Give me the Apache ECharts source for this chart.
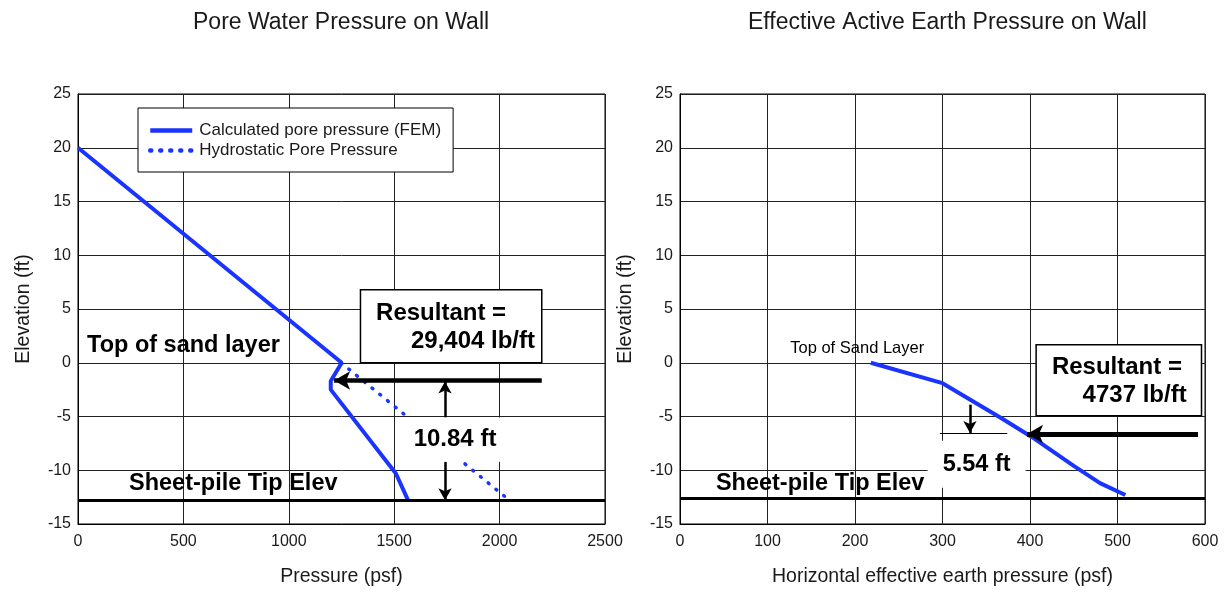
<!DOCTYPE html>
<html><head><meta charset="utf-8">
<script src="https://cdn.jsdelivr.net/npm/echarts@6/dist/echarts.min.js"></script>
<style>html,body{margin:0;padding:0;background:#fff}#c{width:1228px;height:592px}</style>
</head><body><div id="c"></div>
<script>
const FONT = '"Liberation Sans", Arial, Helvetica, sans-serif';
const BLUE = '#1a34ff';
const TXT = '#1a1a1a';

// ---- Left chart: Pore Water Pressure on Wall ----
const femPressure = [0, 1251, 1199, 1199, 1508, 1566];
const femElev = [20, 0, -1.7, -2.5, -10.3, -12.8];
const hydroPressure = [1248, 2047];
const hydroElev = [0, -12.8];
const tipElevLeft = -12.8;
const resultantLeftText = ['Resultant =', '29,404 lb/ft'];
const armLeftText = '10.84 ft';

// ---- Right chart: Effective Active Earth Pressure on Wall ----
const effPressure = [218, 300, 366, 402, 450, 480, 509];
const effElev = [0, -1.9, -5.1, -6.9, -9.6, -11.2, -12.3];
const tipElevRight = -12.6;
const resultantRightText = ['Resultant =', '4737 lb/ft'];
const armRightText = '5.54 ft';

// axes
const leftX = {min: 0, max: 2500, interval: 500};
const rightX = {min: 0, max: 600, interval: 100};
const elevY = {min: -15, max: 25, interval: 5};

const zip = (a, b) => a.map((v, i) => [v, b[i]]);

const chart = echarts.init(document.getElementById('c'), null, {renderer: 'canvas'});

function xAxisDef(idx, r, name, gap) {
  return {
    type: 'value', gridIndex: idx, min: r.min, max: r.max, interval: r.interval,
    name: name, nameLocation: 'middle', nameGap: gap,
    nameTextStyle: {fontFamily: FONT, fontSize: 19.5, color: TXT},
    axisLine: {show: true, onZero: false, lineStyle: {color: '#000', width: 1}},
    axisTick: {show: false},
    axisLabel: {fontFamily: FONT, fontSize: 16, color: TXT, margin: 10, formatter: (v) => String(v)},
    splitLine: {show: true, lineStyle: {color: '#222', width: 1}}
  };
}
function yAxisDef(idx) {
  return {
    type: 'value', gridIndex: idx, min: elevY.min, max: elevY.max, interval: elevY.interval,
    name: 'Elevation (ft)', nameLocation: 'middle', nameGap: 44,
    nameTextStyle: {fontFamily: FONT, fontSize: 19.5, color: TXT},
    axisLine: {show: true, onZero: false, lineStyle: {color: '#000', width: 1}},
    axisTick: {show: false},
    axisLabel: {fontFamily: FONT, fontSize: 16, color: TXT, margin: 7, formatter: (v) => String(v)},
    splitLine: {show: true, lineStyle: {color: '#222', width: 1}}
  };
}

function textPoint(coord, text, align, size, weight) {
  return {
    coord: coord, symbol: 'circle', symbolSize: 0.01,
    itemStyle: {color: 'rgba(0,0,0,0)'},
    label: {show: true, position: 'inside', formatter: text, align: align, verticalAlign: 'middle',
      fontFamily: FONT, fontSize: size || 23.5, fontWeight: weight || 'bold', color: '#000'}
  };
}

function arrowLine(p1, p2, width, size) {
  return [
    {coord: p1, symbol: 'none', lineStyle: {color: '#000', width: width, type: 'solid'}},
    {coord: p2, symbol: 'arrow', symbolSize: size}
  ];
}
function plainLine(p1, p2, width) {
  return [
    {coord: p1, symbol: 'none', lineStyle: {color: '#000', width: width, type: 'solid'}},
    {coord: p2, symbol: 'none'}
  ];
}

const option = {
  backgroundColor: '#fff',
  animation: false,
  title: [
    {text: 'Pore Water Pressure on Wall', left: 188, top: 6,
      textStyle: {fontFamily: FONT, fontSize: 23, fontWeight: 'normal', color: TXT}},
    {text: 'Effective Active Earth Pressure on Wall', left: 743, top: 6,
      textStyle: {fontFamily: FONT, fontSize: 23, fontWeight: 'normal', color: TXT}}
  ],
  legend: {
    data: ['Calculated pore pressure (FEM)', 'Hydrostatic Pore Pressure'],
    orient: 'vertical', left: 138, top: 108,
    itemWidth: 42, itemHeight: 14, itemGap: 3,
    padding: [14, 12, 13, 10],
    borderColor: '#000', borderWidth: 1, backgroundColor: '#fff',
    lineStyle: {width: 4.5},
    textStyle: {fontFamily: FONT, fontSize: 17, color: TXT, padding: [0, 0, 0, 2]}
  },
  grid: [
    {left: 78, top: 94, width: 527, height: 430, show: true, borderColor: '#000', borderWidth: 1, backgroundColor: '#fff'},
    {left: 680, top: 94, width: 525, height: 430, show: true, borderColor: '#000', borderWidth: 1, backgroundColor: '#fff'}
  ],
  xAxis: [
    xAxisDef(0, leftX, 'Pressure (psf)', 43),
    xAxisDef(1, rightX, 'Horizontal effective earth pressure (psf)', 43)
  ],
  yAxis: [yAxisDef(0), yAxisDef(1)],
  series: [
    {
      name: 'Hydrostatic Pore Pressure', type: 'line', xAxisIndex: 0, yAxisIndex: 0,
      data: zip(hydroPressure, hydroElev), symbol: 'none', z: 2,
      lineStyle: {color: BLUE, width: 3.5, type: [1, 9], cap: 'round'},
      itemStyle: {color: 'rgba(0,0,0,0)'}
    },
    {
      name: 'Calculated pore pressure (FEM)', type: 'line', xAxisIndex: 0, yAxisIndex: 0,
      data: zip(femPressure, femElev), symbol: 'none', z: 3,
      lineStyle: {color: BLUE, width: 4}, itemStyle: {color: 'rgba(0,0,0,0)'}
    },
    {
      name: 'annotLeft', type: 'line', xAxisIndex: 0, yAxisIndex: 0, data: [], z: 10, clip: false,
      markArea: {
        silent: true,
        data: [
          [{coord: [1340, 6.8], itemStyle: {color: '#fff', borderColor: '#000', borderWidth: 1.5}, label: {show: false}},
           {coord: [2200, 0]}]
        ]
      },
      markLine: {
        silent: true, symbol: 'none', label: {show: false},
        data: [
          plainLine([leftX.min, tipElevLeft], [leftX.max, tipElevLeft], 3),
          arrowLine([2200, -1.65], [1215, -1.65], 4.5, [14, 16]),
          arrowLine([1741, -5.1], [1741, -1.75], 2.5, [10, 12]),
          arrowLine([1741, -9.2], [1741, tipElevLeft], 2.5, [10, 12])
        ]
      },
      markPoint: {
        silent: true,
        data: [
          textPoint([1414, 4.6], resultantLeftText[0], 'left', 24),
          textPoint([2168, 1.95], resultantLeftText[1], 'right', 24),
          textPoint([43, 1.6], 'Top of sand layer', 'left'),
          textPoint([242, -11.2], 'Sheet-pile Tip Elev', 'left')
        ]
      }
    },
    {
      name: 'effective', type: 'line', xAxisIndex: 1, yAxisIndex: 1,
      data: zip(effPressure, effElev), symbol: 'none', z: 3,
      lineStyle: {color: BLUE, width: 4}, itemStyle: {color: BLUE}
    },
    {
      name: 'annotRight', type: 'line', xAxisIndex: 1, yAxisIndex: 1, data: [], z: 10, clip: false,
      markArea: {
        silent: true,
        data: [
          [{coord: [407, 1.67], itemStyle: {color: '#fff', borderColor: '#000', borderWidth: 1.5}, label: {show: false}},
           {coord: [596, -4.93]}]
        ]
      },
      markLine: {
        silent: true, symbol: 'none', label: {show: false},
        data: [
          plainLine([rightX.min, tipElevRight], [rightX.max, tipElevRight], 3),
          arrowLine([592, -6.63], [396.6, -6.63], 5, [14, 16]),
          plainLine([297, -6.54], [374, -6.54], 1),
          arrowLine([331.4, -3.9], [331.4, -6.54], 2.5, [10, 12]),
          arrowLine([331.4, -16.2], [331.4, -12.75], 2.5, [10, 12])
        ]
      },
      markPoint: {
        silent: true,
        data: [
          textPoint([425, -0.47], resultantRightText[0], 'left', 24),
          textPoint([579, -3.0], resultantRightText[1], 'right', 24),
          textPoint([126, 1.3], 'Top of Sand Layer', 'left', 16.5, 'normal'),
          textPoint([41, -11.2], 'Sheet-pile Tip Elev', 'left')
        ]
      }
    }
  ]
};
chart.setOption(option);

// White label boxes for the lever-arm dimensions, placed through the axes' scales
const armBoxes = [
  {grid: 0, from: [1537, -5.1], to: [2040, -9.2], text: armLeftText, size: 24},
  {grid: 1, from: [283, -7.26], to: [395, -11.63], text: armRightText, size: 23.5}
];
const graphics = [];
armBoxes.forEach((b) => {
  const p1 = chart.convertToPixel({gridIndex: b.grid}, b.from);
  const p2 = chart.convertToPixel({gridIndex: b.grid}, b.to);
  const x = Math.min(p1[0], p2[0]), y = Math.min(p1[1], p2[1]);
  const w = Math.abs(p2[0] - p1[0]), h = Math.abs(p2[1] - p1[1]);
  graphics.push({type: 'rect', z: 100, silent: true, shape: {x: x, y: y, width: w, height: h},
    style: {fill: '#fff'}});
  graphics.push({type: 'text', z: 101, silent: true, x: x + w / 2, y: y + h / 2,
    style: {text: b.text, fontFamily: FONT, fontWeight: 'bold', fontSize: b.size, fill: '#000',
      align: 'center', verticalAlign: 'middle'}});
});
chart.setOption({graphic: graphics});
</script></body></html>
